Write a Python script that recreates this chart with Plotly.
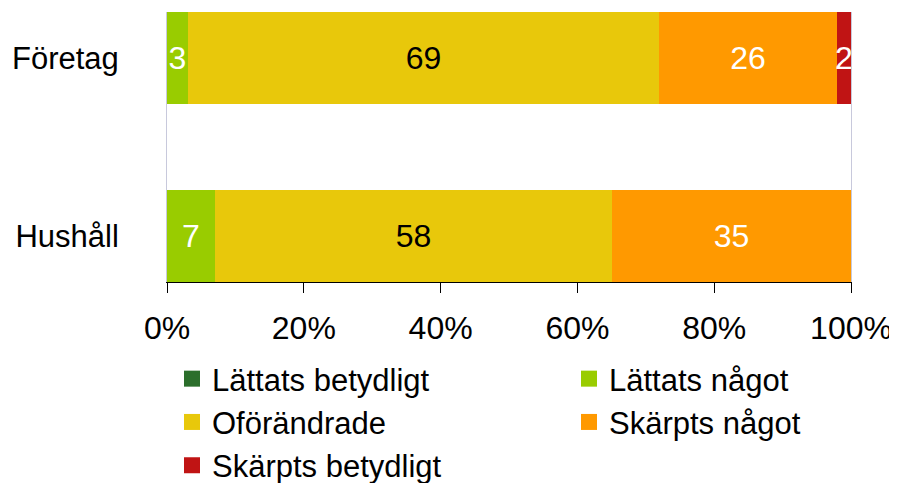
import plotly.graph_objects as go

categories = ["Företag", "Hushåll"]
series_names = ["Lättats betydligt", "Lättats något", "Oförändrade", "Skärpts något", "Skärpts betydligt"]
values = {
    "Lättats betydligt": [0, 0],
    "Lättats något": [3, 7],
    "Oförändrade": [69, 58],
    "Skärpts något": [26, 35],
    "Skärpts betydligt": [2, 0],
}
colors = {
    "Lättats betydligt": "#2b6e2b",
    "Lättats något": "#99cc00",
    "Oförändrade": "#e8c80b",
    "Skärpts något": "#ff9900",
    "Skärpts betydligt": "#c01414",
}
text_colors = {
    "Lättats betydligt": "white",
    "Lättats något": "white",
    "Oförändrade": "black",
    "Skärpts något": "white",
    "Skärpts betydligt": "white",
}
x_ticks = [0, 20, 40, 60, 80, 100]
legend_col1 = ["Lättats betydligt", "Oförändrade", "Skärpts betydligt"]
legend_col2 = ["Lättats något", "Skärpts något"]

FONT = "Liberation Sans, Arial, sans-serif"
OFF = 8  # page body margin offset

fig = go.Figure()
for name in series_names:
    vals = values[name]
    fig.add_trace(go.Bar(
        y=categories, x=vals, orientation="h", name=name,
        marker=dict(color=colors[name], line=dict(width=0)),
        width=0.517,
        text=[str(v) if v > 0 else "" for v in vals],
        textposition="inside", insidetextanchor="middle", textangle=0,
        constraintext="none", cliponaxis=False,
        textfont=dict(family=FONT, size=32, color=text_colors[name]),
        showlegend=False, hoverinfo="skip",
    ))

for name in legend_col1 + legend_col2:
    fig.add_trace(go.Scatter(
        x=[-10], y=[-10], mode="markers", name=name,
        marker=dict(symbol="square", size=20, color=colors[name]),
        xaxis="x2", yaxis="y2",
        legend="legend" if name in legend_col1 else "legend2",
        showlegend=True, hoverinfo="skip",
    ))

legend_common = dict(
    orientation="v", xref="container", yref="container",
    xanchor="left", yanchor="top", itemsizing="trace",
    font=dict(family=FONT, size=31, color="black"),
    bgcolor="rgba(0,0,0,0)", traceorder="normal",
)
fig.update_layout(
    width=897, height=483,
    margin=dict(l=167 - OFF, r=46 + OFF, t=12 - OFF, b=201 + OFF, autoexpand=False),
    paper_bgcolor="white", plot_bgcolor="white",
    barmode="stack", bargap=0,
    font=dict(family=FONT, color="black"),
    legend=dict(x=(172 - OFF) / 897, y=1 - (352 - OFF) / 483, **legend_common),
    legend2=dict(x=(569 - OFF) / 897, y=1 - (352 - OFF) / 483, **legend_common),
    xaxis=dict(
        range=[0, 100], tickvals=x_ticks, ticktext=[f"{t}%" for t in x_ticks],
        showgrid=False, zeroline=False, showline=True, linecolor="black", linewidth=1,
        ticks="outside", ticklen=10, tickcolor="black", tickwidth=1,
        tickfont=dict(family=FONT, size=32, color="black"),
        ticklabelstandoff=8, tickangle=0,
    ),
    yaxis=dict(
        type="category", categoryorder="array", categoryarray=["Hushåll", "Företag"],
        range=[-0.258, 1.258],
        showgrid=False, zeroline=False, showline=True, mirror=True,
        linecolor="#c8c9dc", linewidth=1, ticks="",
        tickfont=dict(family=FONT, size=31, color="black"),
        ticklabelstandoff=41,
    ),
    xaxis2=dict(range=[0, 1], visible=False, overlaying="x", fixedrange=True),
    yaxis2=dict(range=[0, 1], visible=False, overlaying="y", fixedrange=True),
)

fig.write_html("out.html")
